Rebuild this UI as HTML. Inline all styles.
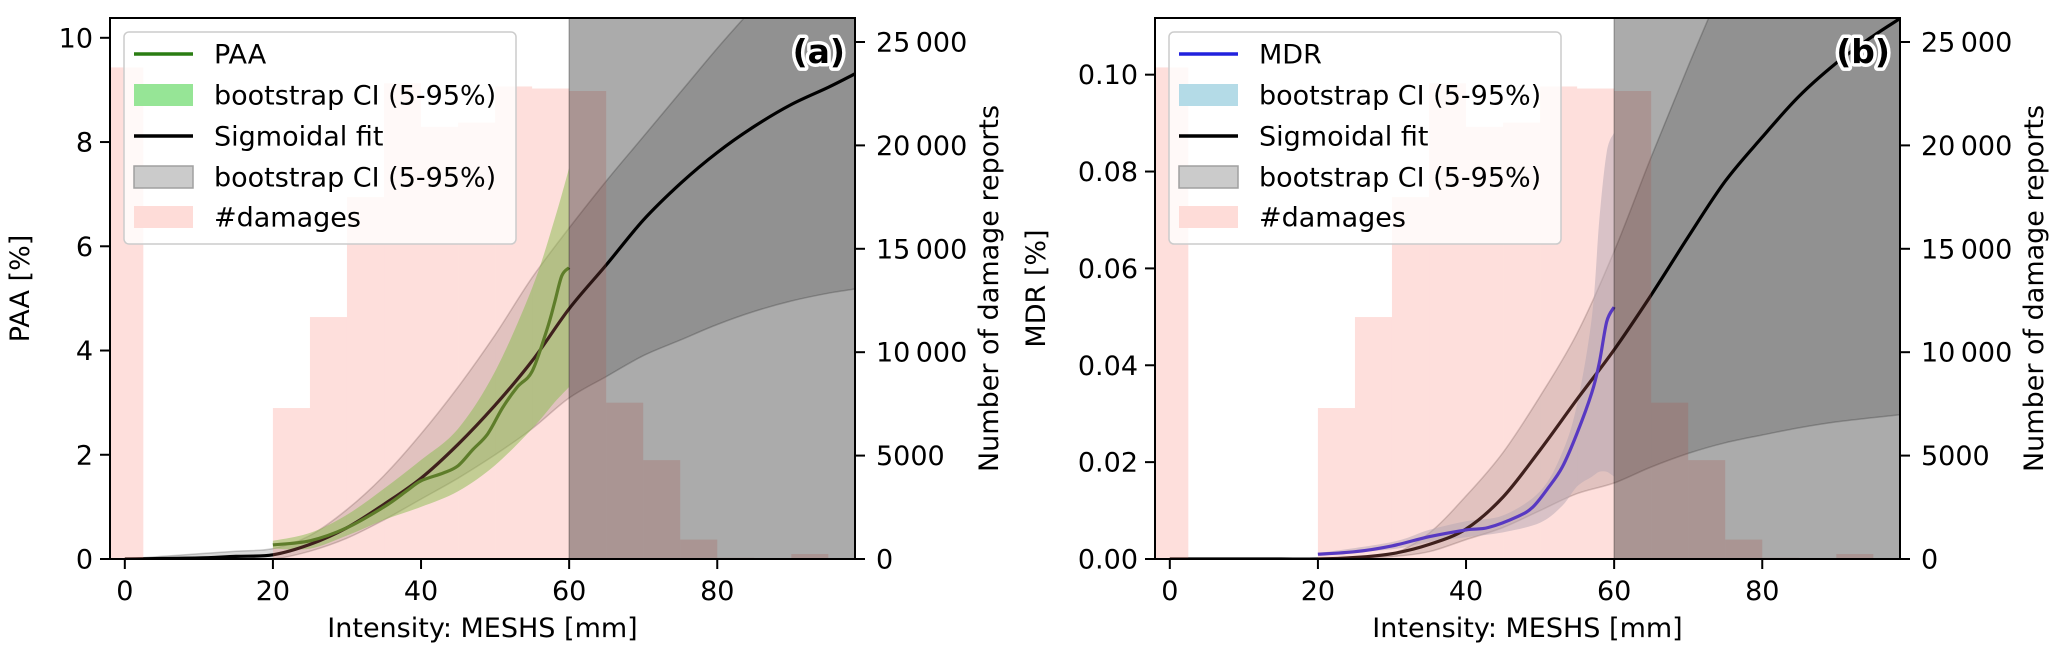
<!DOCTYPE html>
<html><head><meta charset="utf-8"><title>PAA and MDR vs MESHS</title>
<style>
html,body{margin:0;padding:0;background:#fff;}
svg{display:block;font-family:"DejaVu Sans","Liberation Sans",sans-serif;}
</style></head>
<body>
<svg id="chart" width="2067" height="661" viewBox="0 0 2067 661" xmlns="http://www.w3.org/2000/svg"></svg>
<script>
// ---- shared data ----
const histLeft = [-2.5,20,25,30,35,40,45,50,55,60,65,70,75,80,85,90,95];
const histCounts = [23770,7300,11700,17500,23000,20900,21100,22850,22750,22630,7560,4780,940,60,40,240,30];
const xTicks = [0,20,40,60,80];
const rightTicks = [0,5000,10000,15000,20000,25000];
const rightTickLabels = ["0","5000","10\u2009000","15\u2009000","20\u2009000","25\u2009000"];
// ---- panel (a) data ----
const paaYTicks = [0,2,4,6,8,10];
const paaYTickLabels = ["0","2","4","6","8","10"];
const sigAx = [0,5,10,15,20,25,30,35,40,45,50,55,60,65,70,75,80,85,90,95,98.6];
const sigA = [0,0.01,0.02,0.05,0.08,0.28,0.6,1.05,1.55,2.2,2.95,3.8,4.8,5.64,6.5,7.2,7.8,8.3,8.72,9.05,9.31];
const sigALo = [0,0,0,0,0,0.15,0.4,0.75,1.15,1.55,2.0,2.5,3.09,3.5,3.9,4.2,4.5,4.75,4.95,5.1,5.18];
const sigAHi = [0,0.05,0.1,0.15,0.2,0.45,0.95,1.6,2.4,3.3,4.3,5.4,6.35,7.25,8.1,8.95,9.8,10.6,11.4,12.2,12.8];
const paaX = [20,25,30,35,38,40,43,45,47,49,51,53,55,57,58,59,60];
const paa = [0.27,0.35,0.6,1.0,1.3,1.5,1.65,1.79,2.1,2.4,2.9,3.3,3.6,4.4,4.9,5.43,5.59];
const paaCIx = [20,25,30,35,40,45,50,55,58,60];
const paaHi = [0.35,0.5,0.85,1.35,1.9,2.5,3.6,5.2,6.5,7.5];
const paaLo = [0.2,0.2,0.45,0.75,1.0,1.3,1.8,2.5,3.0,3.3];
// ---- panel (b) data ----
const mdrYTicks = [0,0.02,0.04,0.06,0.08,0.10];
const mdrYTickLabels = ["0.00","0.02","0.04","0.06","0.08","0.10"];
const sigB = [0,0,0,0,0,0.0003,0.0011,0.003,0.0062,0.0128,0.0225,0.033,0.0432,0.0545,0.0665,0.078,0.0871,0.0956,0.1024,0.108,0.1116];
const sigBLo = [0,0,0,0,0,0.0002,0.0005,0.0015,0.004,0.0065,0.01,0.0135,0.0157,0.019,0.0218,0.024,0.0256,0.0271,0.0283,0.0292,0.0298];
const sigBHi = [0,0,0,0,0,0.0002,0.001,0.0053,0.013,0.022,0.0336,0.0466,0.0635,0.083,0.1017,0.12,0.14,0.16,0.18,0.2,0.21];
const mdrX = [20,25,30,35,40,43,47,49,51,53,55,57,58,59,60];
const mdr = [0.001,0.0015,0.0027,0.0046,0.006,0.0065,0.0088,0.0107,0.0145,0.019,0.026,0.0344,0.0405,0.049,0.052];
const mdrCIx = [20,30,35,40,45,50,53,55,57,58,59,60];
const mdrHi = [0.0012,0.0035,0.006,0.0078,0.009,0.014,0.022,0.032,0.05,0.07,0.084,0.088];
const mdrLo = [0.0008,0.002,0.0035,0.0045,0.0055,0.0075,0.011,0.015,0.017,0.018,0.018,0.017];

const NS = "http://www.w3.org/2000/svg";
const svg = document.getElementById("chart");
const FS = 27;
function mk(tag, attrs, parent){
  const e = document.createElementNS(NS, tag);
  for (const k in attrs) e.setAttribute(k, attrs[k]);
  (parent||svg).appendChild(e);
  return e;
}
// Catmull-Rom smoothing of a pixel point list into bezier segments
function smooth(pts, start){
  let d = start ? "M" + pts[0][0].toFixed(1) + "," + pts[0][1].toFixed(1) : "L" + pts[0][0].toFixed(1) + "," + pts[0][1].toFixed(1);
  for (let i = 0; i < pts.length - 1; i++){
    const p0 = pts[Math.max(i - 1, 0)], p1 = pts[i], p2 = pts[i + 1], p3 = pts[Math.min(i + 2, pts.length - 1)];
    const c1 = [p1[0] + (p2[0] - p0[0]) / 6, p1[1] + (p2[1] - p0[1]) / 6];
    const c2 = [p2[0] - (p3[0] - p1[0]) / 6, p2[1] - (p3[1] - p1[1]) / 6];
    d += "C" + c1[0].toFixed(1) + "," + c1[1].toFixed(1) + " " + c2[0].toFixed(1) + "," + c2[1].toFixed(1) + " " + p2[0].toFixed(1) + "," + p2[1].toFixed(1);
  }
  return d;
}
const TOP = 18, BOT = 559;

function panel(o){
  const g = mk("g", {});
  
  
  const L = o.left, R = o.left + 745;
  const xmin = -2.0, xmax = 98.6;
  const xs = v => L + (v - xmin) / (xmax - xmin) * (R - L);
  const ys = v => BOT - v / o.ymax * (BOT - TOP);
  const yr = v => BOT - v / 26160 * (BOT - TOP);
  const cid = "clip" + o.tag;
  const cp = mk("clipPath", {id: cid}, g);
  mk("rect", {x: L, y: TOP, width: R - L, height: BOT - TOP}, cp);
  const plot = mk("g", {"clip-path": "url(#" + cid + ")"}, g);
  
  
  const band = (xa, hi, lo, fill, op, stroke, name) => {
    const up = xa.map((x, i) => [xs(x), ys(hi[i])]);
    const dn = xa.map((x, i) => [xs(x), ys(lo[i])]).reverse();
    const d = smooth(up, true) + smooth(dn, false) + "Z";
    const p = mk("path", {d: d, fill: fill, "fill-opacity": op, stroke: stroke, "stroke-opacity": 0.2, "stroke-width": 1.5}, plot);
    
    
  };
  const line = (xa, ya, color, w, name) => {
    const pts = xa.map((x, i) => [xs(x), ys(ya[i])]);
    const p = mk("path", {d: smooth(pts, true), fill: "none", stroke: color, "stroke-width": w, "stroke-linejoin": "round"}, plot);
    
    
  };
  band(sigAx, o.sigHi, o.sigLo, "#000", 0.15, "#000", "sigmoid-ci-band");
  band(o.ciX, o.ciHi, o.ciLo, o.ciColor, o.ciOp, "none", "empirical-ci-band");
  line(sigAx, o.sig, "#000", 3.2, "sigmoid-fit-line");
  line(o.lx, o.ly, o.lineColor, 3.2, "empirical-line");
  histLeft.forEach((x, i) => {
    const r = mk("rect", {x: xs(x), y: yr(histCounts[i]), width: xs(x + 5) - xs(x), height: BOT - yr(histCounts[i]), fill: "#fa8072", "fill-opacity": 0.25}, plot);
    
    
  });
  const gr = mk("rect", {x: xs(60), y: TOP, width: R - xs(60), height: BOT - TOP, fill: "#000", "fill-opacity": 0.33}, plot);
  
  
  const vl = mk("line", {x1: xs(60), x2: xs(60), y1: TOP, y2: BOT, stroke: "#000", "stroke-opacity": 0.25, "stroke-width": 1.5}, plot);
  
  
  const sp = mk("rect", {x: L, y: TOP, width: R - L, height: BOT - TOP, fill: "none", stroke: "#000", "stroke-width": 2}, g);
  
  
  xTicks.forEach(v => {
    mk("line", {x1: xs(v), x2: xs(v), y1: BOT, y2: BOT + 10, stroke: "#000", "stroke-width": 2}, g);
    const t = mk("text", {x: xs(v), y: 600, "text-anchor": "middle", "font-size": FS}, g);
    t.textContent = v;
    
    
  });
  o.yTicks.forEach((v, i) => {
    mk("line", {x1: L - 10, x2: L, y1: ys(v), y2: ys(v), stroke: "#000", "stroke-width": 2}, g);
    const t = mk("text", {x: L - 17, y: ys(v) + 9.5, "text-anchor": "end", "font-size": FS}, g);
    t.textContent = o.yLabels[i];
    
    
  });
  rightTicks.forEach((v, i) => {
    mk("line", {x1: R, x2: R + 10, y1: yr(v), y2: yr(v), stroke: "#000", "stroke-width": 2}, g);
    const t = mk("text", {x: R + 21, y: yr(v) + 9.5, "font-size": FS}, g);
    t.textContent = rightTickLabels[i];
    
    
  });
  const xl = mk("text", {x: (L + R) / 2, y: 637, "text-anchor": "middle", "font-size": FS}, g);
  xl.textContent = "Intensity: MESHS [mm]";
  
  
  const yl = mk("text", {x: 0, y: 0, "text-anchor": "middle", "font-size": FS, transform: "translate(" + (L - o.ylOff) + "," + ((TOP + BOT) / 2) + ") rotate(-90)"}, g);
  yl.textContent = o.ylabel;
  
  
  const yr2 = mk("text", {x: 0, y: 0, "text-anchor": "middle", "font-size": FS, transform: "translate(" + (R + 143) + "," + ((TOP + BOT) / 2) + ") rotate(-90)"}, g);
  yr2.textContent = "Number of damage reports";
  
  
  const pt = mk("text", {x: R - 10, y: 63, "text-anchor": "end", "font-size": 33, "font-weight": "bold", stroke: "#fff", "stroke-width": 7, "paint-order": "stroke", fill: "#000", "stroke-linejoin": "round"}, g);
  pt.textContent = "(" + o.tag + ")";
  
  
  const lg = mk("g", {}, g);
  
  
  const lx = L + 14;
  mk("rect", {x: lx, y: 32, width: 392, height: 212, rx: 5, fill: "#fff", "fill-opacity": 0.8, stroke: "#ccc", "stroke-width": 1.5}, lg);
  const rows = [54, 95, 136, 177, 217];
  const labels = [o.lineLabel, "bootstrap CI (5-95%)", "Sigmoidal fit", "bootstrap CI (5-95%)", "#damages"];
  labels.forEach((s, i) => {
    const e = mk("g", {}, lg);
    
    
    const hx = lx + 10, y = rows[i];
    if (i === 0) mk("line", {x1: hx, x2: hx + 59, y1: y, y2: y, stroke: o.lineColor, "stroke-width": 3.5}, e);
    if (i === 2) mk("line", {x1: hx, x2: hx + 59, y1: y, y2: y, stroke: "#000", "stroke-width": 3.5}, e);
    if (i === 1) mk("rect", {x: hx, y: y - 11, width: 59, height: 22, fill: o.legCI}, e);
    if (i === 3) mk("rect", {x: hx, y: y - 11, width: 59, height: 22, fill: "#cbcbcb", stroke: "#a0a0a0", "stroke-width": 1.5}, e);
    if (i === 4) mk("rect", {x: hx, y: y - 11, width: 59, height: 22, fill: "#fedcd8"}, e);
    const t = mk("text", {x: lx + 90, y: y + 9.5, "font-size": FS}, e);
    t.textContent = s;
  });
}

panel({name: "panel-a-paa", tag: "a", left: 110, ymax: 10.38, yTicks: paaYTicks, yLabels: paaYTickLabels,
  sig: sigA, sigLo: sigALo, sigHi: sigAHi, ciX: paaCIx, ciHi: paaHi, ciLo: paaLo, ciColor: "#62d040", ciOp: 0.5,
  lx: paaX, ly: paa, lineColor: "#2a7d12", lineLabel: "PAA", ylabel: "PAA [%]", ylOff: 81, legCI: "#96e596"});
panel({name: "panel-b-mdr", tag: "b", left: 1155, ymax: 0.1117, yTicks: mdrYTicks, yLabels: mdrYTickLabels,
  sig: sigB, sigLo: sigBLo, sigHi: sigBHi, ciX: mdrCIx, ciHi: mdrHi, ciLo: mdrLo, ciColor: "#9db4c8", ciOp: 0.5,
  lx: mdrX, ly: mdr, lineColor: "#2222dd", lineLabel: "MDR", ylabel: "MDR [%]", ylOff: 110, legCI: "#b4dbe7"});
</script>
</body></html>
